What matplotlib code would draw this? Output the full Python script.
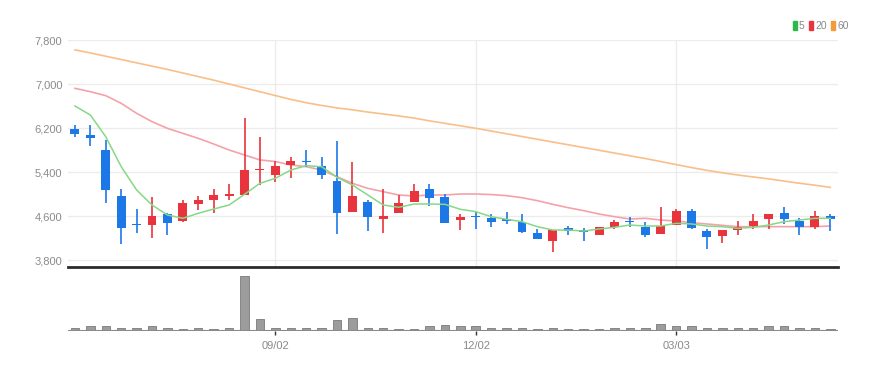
import matplotlib
matplotlib.use("Agg")
import matplotlib.pyplot as plt
import numpy as np

plt.rcParams['font.family'] = ['Liberation Sans Narrow', 'Liberation Sans', 'DejaVu Sans']

## weekly candles (open, high, low, close)
opens = [6190, 6070, 5800, 4960, 4460, 4440, 4640, 4515, 4815, 4890,
         4970, 4980, 5440, 5345, 5530, 5600, 5515, 5236, 4667, 4860,
         4550, 4650, 4855, 5090, 4950, 4530, 4600, 4558, 4540, 4497,
         4285, 4151, 4376, 4345, 4255, 4394, 4510, 4406, 4273, 4436,
         4697, 4327, 4236, 4345, 4418, 4540, 4650, 4509, 4394, 4600]
highs = [6250, 6250, 5980, 5100, 4720, 4940, 4650, 4900, 4960, 5085,
         5180, 6380, 6030, 5600, 5680, 5800, 5670, 5970, 5576, 4890,
         5100, 4982, 5180, 5180, 5000, 4630, 4680, 4630, 4680, 4636,
         4358, 4345, 4418, 4376, 4400, 4527, 4588, 4497, 4758, 4720,
         4720, 4358, 4345, 4515, 4636, 4640, 4770, 4558, 4690, 4630]
lows = [6040, 5870, 4830, 4100, 4290, 4195, 4255, 4500, 4710, 4650,
        4890, 4980, 5160, 5225, 5285, 5500, 5265, 4273, 4667, 4333,
        4297, 4650, 4855, 4782, 4470, 4345, 4358, 4394, 4455, 4285,
        4182, 3951, 4255, 4151, 4250, 4370, 4394, 4213, 4273, 4436,
        4360, 4000, 4103, 4250, 4370, 4370, 4455, 4255, 4370, 4333]
closes = [6090, 6010, 5070, 4390, 4430, 4600, 4470, 4830, 4900, 4980,
          5000, 5440, 5460, 5515, 5600, 5585, 5345, 4660, 4964, 4576,
          4600, 4843, 5060, 4922, 4475, 4590, 4582, 4497, 4515, 4303,
          4182, 4345, 4333, 4303, 4394, 4497, 4485, 4255, 4418, 4697,
          4376, 4224, 4345, 4394, 4509, 4630, 4545, 4406, 4600, 4540]
volumes = [10, 14, 14, 10, 8, 16, 8, 7, 8, 5,
           8, 167, 36, 9, 8, 8, 9, 34, 40, 8,
           9, 7, 7, 14, 19, 14, 15, 8, 8, 8,
           5, 8, 5, 5, 5, 10, 10, 8, 22, 14,
           16, 10, 8, 10, 10, 15, 16, 10, 10, 7]

## moving averages
ma5 = [6600, 6436, 6042, 5497, 5073, 4800, 4618, 4558, 4649, 4727,
       4800, 4994, 5194, 5285, 5436, 5515, 5497, 5303, 5164, 4982,
       4800, 4758, 4818, 4818, 4812, 4722, 4679, 4588, 4540, 4497,
       4406, 4345, 4345, 4327, 4364, 4394, 4436, 4418, 4418, 4467,
       4455, 4418, 4406, 4376, 4394, 4436, 4497, 4527, 4558, 4558]
ma20 = [6921, 6860, 6788, 6649, 6467, 6315, 6194, 6103, 6012, 5909,
        5800, 5709, 5620, 5590, 5527, 5497, 5436, 5315, 5194, 5103,
        5042, 4982, 4964, 4982, 4982, 5000, 5000, 4990, 4970, 4933,
        4879, 4812, 4751, 4697, 4636, 4588, 4545, 4558, 4527, 4509,
        4479, 4455, 4430, 4406, 4406, 4406, 4406, 4406, 4406, 4418]
ma60 = [7620, 7565, 7505, 7445, 7385, 7325, 7265, 7200, 7135, 7070,
        7000, 6930, 6860, 6790, 6720, 6660, 6610, 6565, 6530, 6490,
        6455, 6420, 6380, 6330, 6285, 6240, 6195, 6145, 6095, 6045,
        5995, 5945, 5895, 5845, 5795, 5745, 5695, 5645, 5590, 5535,
        5480, 5430, 5385, 5345, 5310, 5275, 5235, 5195, 5160, 5120]

tick_pos = [13, 26, 39]
tick_labels = ['09/02', '12/02', '03/03']
y_ticks = [3800, 4600, 5400, 6200, 7000, 7800]

UP = '#e8343c'
DOWN = '#1c78e6'

fig = plt.figure(figsize=(8.85, 3.71), dpi=100)
ax = fig.add_axes([68/885, 1-267/371, 770/885, 227/371])
axv = fig.add_axes([68/885, 1-331/371, 770/885, 61/371], sharex=ax)

x = np.arange(len(opens))

## candles
for i in x:
    o, h, l, c = opens[i], highs[i], lows[i], closes[i]
    col = UP if c >= o else DOWN
    ax.vlines(i, l, h, color=col, lw=1.2, zorder=3)
    lo, hi = min(o, c), max(o, c)
    if hi - lo < 25:
        mid = (hi + lo) / 2
        lo, hi = mid - 12, mid + 12
    ax.bar(i, hi - lo, bottom=lo, width=0.58, color=col, zorder=4, linewidth=0)

ax.plot(x, ma60, color='#f8bf8a', lw=1.2, zorder=2)
ax.plot(x, ma20, color='#f4a2aa', lw=1.2, zorder=2)
ax.plot(x, ma5, color='#86d886', lw=1.1, zorder=5)

ax.set_xlim(-0.45, 49.5)
ax.set_ylim(3800 - 7 * 18.18, 7800)
ax.set_yticks(y_ticks)
ax.set_yticklabels(['{:,}'.format(v) for v in y_ticks])
ax.tick_params(axis='y', length=0, labelsize=8, labelcolor='#8a8a8a', pad=4)
ax.tick_params(axis='x', length=0, labelbottom=False)
ax.grid(axis='y', color='#ececec', lw=1)
for t in tick_pos:
    ax.axvline(t, color='#ececec', lw=1, zorder=0)
for s in ['top', 'right', 'left']:
    ax.spines[s].set_visible(False)
ax.spines['bottom'].set_color('#2b2b2b')
ax.spines['bottom'].set_linewidth(2)
ax.set_axisbelow(True)

## volume
axv.bar(x, volumes, width=0.55, color='#9c9c9c', edgecolor='#7a7a7a', linewidth=0.6)
axv.axhline(0, color='#8a8a8a', lw=1.5)
axv.set_ylim(0, 185)
axv.set_yticks([])
axv.set_xticks(tick_pos)
axv.set_xticklabels(tick_labels)
axv.tick_params(axis='x', length=3, width=1, color='#333333', labelsize=8,
                labelcolor='#8a8a8a', pad=4)
for s in ['top', 'right', 'left', 'bottom']:
    axv.spines[s].set_visible(False)

## legend
leg_items = [('5', '#2db84a'), ('20', '#e8343c'), ('60', '#f29b38')]
lx = 793
for lab, col in leg_items:
    fig.patches.append(plt.Rectangle((lx/885, 1-30/371), 4/885, 9/371,
                                     transform=fig.transFigure, color=col))
    fig.text((lx+6)/885, 1-26/371, lab, fontsize=7.5, color='#8a8a8a', va='center')
    lx += 6 + 6 * len(lab) + 4

fig.savefig('out.png', dpi=100)
